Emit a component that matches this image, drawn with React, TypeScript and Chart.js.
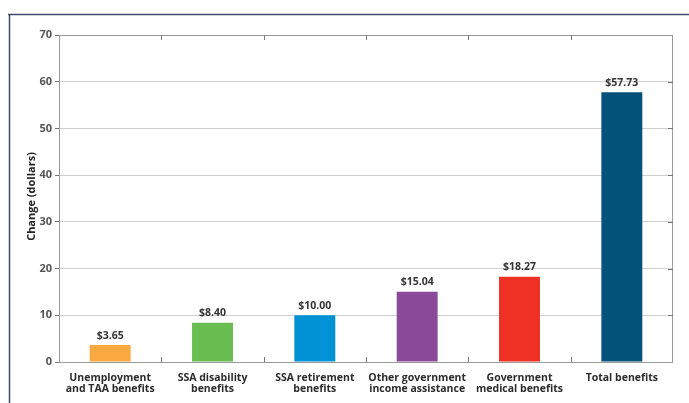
import React, { useEffect, useRef } from "react";
import { Chart, registerables } from "chart.js";

Chart.register(...registerables);

const categories: string[][] = [
  ["Unemployment", "and TAA benefits"],
  ["SSA disability", "benefits"],
  ["SSA retirement", "benefits"],
  ["Other government", "income assistance"],
  ["Government", "medical benefits"],
  ["Total benefits"],
];
const values: number[] = [3.65, 8.4, 10.0, 15.04, 18.27, 57.73];
const valueLabels: string[] = ["$3.65", "$8.40", "$10.00", "$15.04", "$18.27", "$57.73"];
const barColors: string[] = ["#F9A93F", "#6ABD50", "#0092D5", "#8B4A99", "#EE3124", "#03527A"];
const yTitle = "Change (dollars)";
const yMin = 0;
const yMax = 70;
const yStep = 10;

const FONT = "'Open Sans', 'DejaVu Sans', sans-serif";

const decorPlugin = {
  id: "decor",
  beforeDraw(chart: any) {
    const ctx = chart.ctx;
    ctx.save();
    ctx.strokeStyle = "#3F4B6C";
    ctx.lineWidth = 1.5;
    ctx.beginPath();
    ctx.moveTo(8, 14.5);
    ctx.lineTo(chart.width, 14.5);
    ctx.moveTo(9.5, 14);
    ctx.lineTo(9.5, chart.height);
    ctx.stroke();
    ctx.restore();
  },
  afterDatasetsDraw(chart: any) {
    const ctx = chart.ctx;
    const area = chart.chartArea;
    const x = chart.scales.x;
    const y = chart.scales.y;
    ctx.save();
    ctx.strokeStyle = "#9A9A9A";
    ctx.lineWidth = 1;
    ctx.strokeRect(area.left + 0.5, area.top + 0.5, area.right - area.left - 1, area.bottom - area.top);
    ctx.strokeStyle = "#777";
    ctx.beginPath();
    for (let i = 1; i < categories.length; i++) {
      const px = Math.round((x.getPixelForValue(i - 1) + x.getPixelForValue(i)) / 2) + 0.5;
      ctx.moveTo(px, area.bottom);
      ctx.lineTo(px, area.bottom - 5);
      ctx.moveTo(px, area.top);
      ctx.lineTo(px, area.top + 5);
    }
    for (let v = yMin + yStep; v < yMax; v += yStep) {
      const py = Math.round(y.getPixelForValue(v)) + 0.5;
      ctx.moveTo(area.right, py);
      ctx.lineTo(area.right - 5, py);
    }
    ctx.stroke();
    ctx.fillStyle = "#333";
    ctx.font = `bold 10.5px ${FONT}`;
    ctx.textAlign = "center";
    ctx.textBaseline = "bottom";
    const meta = chart.getDatasetMeta(0);
    meta.data.forEach((bar: any, i: number) => {
      ctx.fillText(valueLabels[i], bar.x, bar.y - 4);
    });
    ctx.translate(32, (area.top + area.bottom) / 2 - 2);
    ctx.rotate(-Math.PI / 2);
    ctx.font = `bold 11px ${FONT}`;
    ctx.fillStyle = "#222";
    ctx.textBaseline = "middle";
    ctx.fillText(yTitle, 0, 0);
    ctx.restore();
  },
};

export default function App() {
  const ref = useRef<HTMLCanvasElement>(null);
  useEffect(() => {
    document.body.style.margin = "0";
    const chart = new Chart(ref.current!, {
      type: "bar",
      data: {
        labels: categories,
        datasets: [
          {
            data: values,
            backgroundColor: barColors,
            borderWidth: 0,
            barPercentage: 0.4,
            categoryPercentage: 1,
          },
        ],
      },
      options: {
        animation: false,
        responsive: false,
        maintainAspectRatio: false,
        layout: { padding: { left: 0, top: 35, right: 16, bottom: 0 } },
        plugins: { legend: { display: false }, tooltip: { enabled: false } },
        scales: {
          x: {
            grid: { display: false },
            border: { display: false },
            ticks: {
              color: "#2B2B2B",
              font: { family: FONT, size: 10.5, weight: "bold", lineHeight: 1.1 },
              padding: 2,
              maxRotation: 0,
              autoSkip: false,
            },
            afterFit: (s: any) => {
              s.height = 41;
            },
          },
          y: {
            min: yMin,
            max: yMax,
            ticks: {
              stepSize: yStep,
              color: "#555",
              font: { family: FONT, size: 11, weight: "bold" },
              padding: 3,
            },
            grid: {
              color: "#D0D0D0",
              tickColor: "#777",
              tickLength: 4,
              drawTicks: true,
            },
            border: { display: false },
            afterFit: (s: any) => {
              s.width = 59;
            },
          },
        },
      },
      plugins: [decorPlugin],
    });
    return () => chart.destroy();
  }, []);
  return (
    <div style={{ position: "absolute", left: 0, top: 0, width: 689, height: 403, background: "#fff" }}>
      <canvas ref={ref} width={689} height={403} style={{ display: "block" }} />
    </div>
  );
}
